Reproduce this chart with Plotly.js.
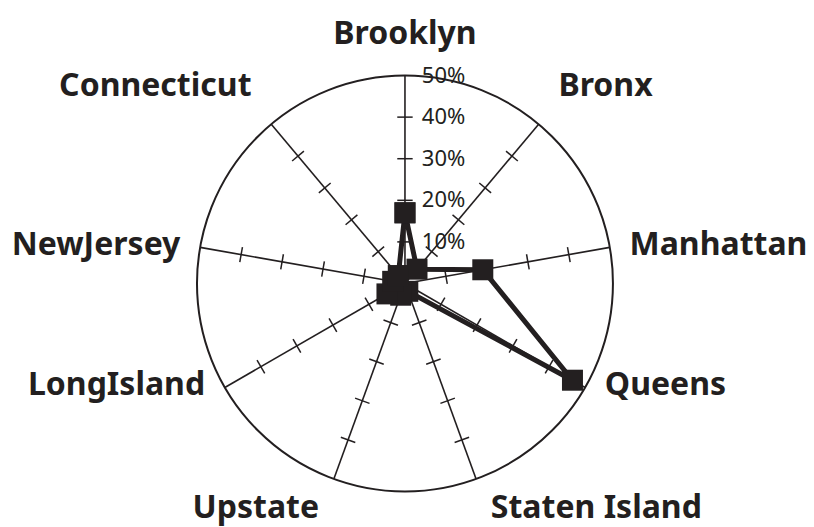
<!DOCTYPE html>
<html>
<head>
<meta charset="utf-8">
<script src="https://cdn.plot.ly/plotly-3.0.1.min.js"></script>
<style>html,body{margin:0;padding:0;background:#fff;}#chart{width:814px;height:527px;}</style>
</head>
<body>
<div id="chart"></div>
<script>
const categories = ['Brooklyn', 'Bronx', 'Manhattan', 'Queens', 'Staten Island', 'Upstate', 'LongIsland', 'NewJersey', 'Connecticut'];
const shares = [17, 4.5, 19, 46.5, 2, 3, 5, 3, 2.5];
const radialMax = 50;
const radialTicks = [10, 20, 30, 40, 50];
const radialTickText = radialTicks.map(v => v + '%');
const spokeTicks = [10, 20, 30, 40];

// styling (not data)
const ink = '#231f20';
const labelPositions = ['top center', 'top right', 'middle right', 'middle right', 'bottom right',
                        'bottom left', 'middle left', 'middle left', 'top left'];
const labelGaps = [36, 30, 30, 30, 22, 22, 30, 30, 30];

// small cross ticks on every spoke
const tickR = [], tickTheta = [], tickAngle = [];
categories.forEach((c, i) => {
  spokeTicks.forEach(v => {
    tickR.push(v);
    tickTheta.push(c);
    tickAngle.push(i * 360 / categories.length);
  });
});

const traces = [
  {
    // category labels, anchored on the outer circle (invisible anchor markers)
    type: 'scatterpolar',
    r: categories.map(() => radialMax),
    theta: categories,
    mode: 'markers+text',
    text: categories,
    textposition: labelPositions,
    marker: { size: labelGaps, color: 'rgba(0,0,0,0)', line: { width: 0, color: 'rgba(0,0,0,0)' } },
    textfont: { family: 'Noto Sans, sans-serif', size: 32, weight: 'bold', color: ink },
    cliponaxis: false,
    hoverinfo: 'skip',
    showlegend: false
  },
  {
    type: 'scatterpolar',
    r: tickR,
    theta: tickTheta,
    mode: 'markers',
    marker: { symbol: 'line-ew', size: 11, angle: tickAngle, color: ink, line: { color: ink, width: 1.5 } },
    hoverinfo: 'skip',
    showlegend: false
  },
  {
    type: 'scatterpolar',
    r: shares.concat([shares[0]]),
    theta: categories.concat([categories[0]]),
    mode: 'lines+markers',
    line: { color: ink, width: 5 },
    marker: { symbol: 'square', size: 21, color: ink, line: { width: 0 } },
    cliponaxis: false,
    showlegend: false
  }
];

const layout = {
  width: 814,
  height: 527,
  margin: { l: 0, r: 0, t: 0, b: 0 },
  paper_bgcolor: '#ffffff',
  showlegend: false,
  polar: {
    domain: { x: [0.242, 0.753], y: [0.0664, 0.8577] },
    bgcolor: '#ffffff',
    angularaxis: {
      type: 'category',
      categoryarray: categories,
      rotation: 90,
      direction: 'clockwise',
      showline: true,
      linecolor: ink,
      linewidth: 2,
      showgrid: true,
      gridcolor: ink,
      gridwidth: 1.6,
      ticks: '',
      showticklabels: false
    },
    radialaxis: {
      range: [0, radialMax],
      angle: 90,
      tickmode: 'array',
      tickvals: radialTicks,
      ticktext: radialTickText,
      tickangle: 90,
      showgrid: false,
      showline: false,
      ticks: 'outside',
      ticklen: 12,
      tickcolor: 'rgba(0,0,0,0)',
      side: 'clockwise',
      tickfont: { family: 'Noto Sans, sans-serif', size: 22, color: ink }
    }
  }
};

Plotly.newPlot('chart', traces, layout, { staticPlot: true, displayModeBar: false });
</script>
</body>
</html>
